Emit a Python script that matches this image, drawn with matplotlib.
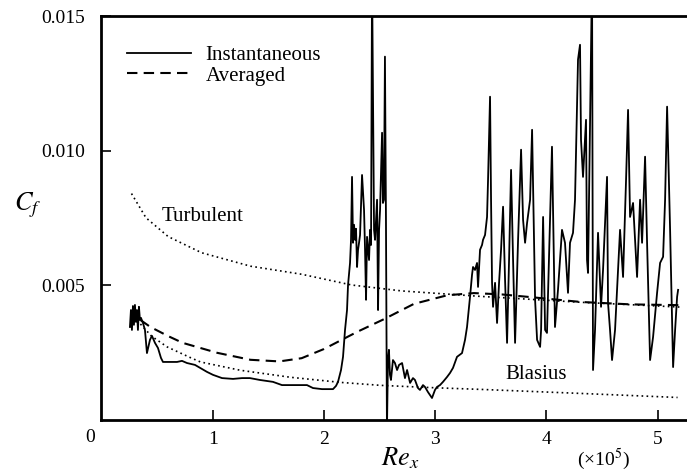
import matplotlib.pyplot as plt

plt.rcParams["font.family"] = ["Liberation Serif", "DejaVu Serif"]
plt.rcParams["mathtext.fontset"] = "stix"

# Re_x in units of 1e5
x_inst = [0.256, 0.265, 0.274, 0.283, 0.292, 0.301, 0.310, 0.319, 0.328, 0.337,
          0.346, 0.355, 0.373, 0.391, 0.409, 0.436, 0.454, 0.481, 0.508, 0.535,
          0.553, 0.616, 0.679, 0.724, 0.769, 0.841, 0.886, 0.949, 1.003, 1.084,
          1.183, 1.264, 1.335, 1.425, 1.542, 1.623, 1.695, 1.785, 1.848, 1.902,
          1.983, 2.082, 2.109, 2.127, 2.154, 2.172, 2.190, 2.208, 2.217, 2.235,
          2.244, 2.253, 2.262, 2.271, 2.280, 2.289, 2.298, 2.307, 2.316, 2.325,
          2.343, 2.361, 2.370, 2.379, 2.388, 2.406, 2.415, 2.424, 2.433, 2.451,
          2.460, 2.478, 2.487, 2.496, 2.505, 2.523, 2.531, 2.540, 2.549, 2.558,
          2.567, 2.576, 2.585, 2.594, 2.603, 2.621, 2.639, 2.658, 2.676, 2.703,
          2.729, 2.748, 2.775, 2.801, 2.819, 2.846, 2.864, 2.891, 2.909, 2.936,
          2.972, 2.999, 3.017, 3.044, 3.071, 3.107, 3.134, 3.161, 3.197, 3.242,
          3.269, 3.287, 3.314, 3.332, 3.341, 3.359, 3.377, 3.386, 3.404, 3.422,
          3.431, 3.449, 3.467, 3.476, 3.494, 3.503, 3.512, 3.521, 3.539, 3.557,
          3.575, 3.593, 3.611, 3.629, 3.647, 3.665, 3.683, 3.701, 3.719, 3.746,
          3.773, 3.791, 3.809, 3.827, 3.854, 3.872, 3.899, 3.917, 3.944, 3.953,
          3.971, 3.989, 4.006, 4.033, 4.051, 4.078, 4.105, 4.123, 4.141, 4.168,
          4.195, 4.213, 4.240, 4.258, 4.285, 4.303, 4.312, 4.330, 4.357, 4.366,
          4.375, 4.411, 4.420, 4.438, 4.465, 4.492, 4.510, 4.546, 4.555, 4.573,
          4.591, 4.618, 4.645, 4.663, 4.690, 4.717, 4.735, 4.753, 4.780, 4.816,
          4.843, 4.861, 4.888, 4.906, 4.933, 4.960, 4.996, 5.023, 5.050, 5.068,
          5.086, 5.113, 5.140, 5.158, 5.176, 5.185]
cf_inst = [0.00344, 0.00407, 0.00333, 0.00422, 0.00352, 0.00426, 0.00363, 0.00407, 0.00333, 0.00419,
           0.00370, 0.00378, 0.00359, 0.00333, 0.00247, 0.00296, 0.00311, 0.00285, 0.00266, 0.00229,
           0.00214, 0.00214, 0.00214, 0.00218, 0.00210, 0.00203, 0.00192, 0.00177, 0.00166, 0.00154,
           0.00151, 0.00154, 0.00154, 0.00147, 0.00140, 0.00128, 0.00128, 0.00128, 0.00128, 0.00117,
           0.00113, 0.00113, 0.00125, 0.00140, 0.00184, 0.00233, 0.00333, 0.00407, 0.00500, 0.00582,
           0.00668, 0.00902, 0.00657, 0.00724, 0.00668, 0.00709, 0.00567, 0.00631, 0.00657, 0.00686,
           0.00909, 0.00779, 0.00631, 0.00445, 0.00679, 0.00593, 0.00705, 0.00649, 0.01650, 0.00705,
           0.00668, 0.00817, 0.00407, 0.00705, 0.00779, 0.01066, 0.00805, 0.00817, 0.01349, 0.00753,
           -0.00040, 0.00221, 0.00259, 0.00166, 0.00147, 0.00221, 0.00210, 0.00184, 0.00203, 0.00210,
           0.00154, 0.00184, 0.00136, 0.00154, 0.00147, 0.00117, 0.00110, 0.00128, 0.00121, 0.00102,
           0.00080, 0.00110, 0.00121, 0.00128, 0.00140, 0.00158, 0.00173, 0.00192, 0.00233, 0.00247,
           0.00296, 0.00344, 0.00456, 0.00538, 0.00567, 0.00556, 0.00582, 0.00493, 0.00631, 0.00649,
           0.00668, 0.00686, 0.00753, 0.00891, 0.01200, 0.00817, 0.00508, 0.00419, 0.00508, 0.00359,
           0.00508, 0.00631, 0.00791, 0.00519, 0.00285, 0.00593, 0.00928, 0.00593, 0.00285, 0.00668,
           0.01003, 0.00742, 0.00657, 0.00731, 0.00817, 0.01077, 0.00445, 0.00296, 0.00270, 0.00333,
           0.00753, 0.00333, 0.00322, 0.00742, 0.01014, 0.00344, 0.00482, 0.00593, 0.00705, 0.00657,
           0.00471, 0.00657, 0.00694, 0.00817, 0.01338, 0.01393, 0.01040, 0.00902, 0.01114, 0.00593,
           0.00545, 0.01650, 0.00184, 0.00333, 0.00694, 0.00419, 0.00556, 0.00902, 0.00433, 0.00333,
           0.00221, 0.00333, 0.00556, 0.00705, 0.00530, 0.00891, 0.01151, 0.00753, 0.00805, 0.00530,
           0.00817, 0.00657, 0.00977, 0.00657, 0.00221, 0.00307, 0.00471, 0.00582, 0.00605, 0.00817,
           0.01163, 0.00705, 0.00195, 0.00333, 0.00456, 0.00482]

x_avg = [0.35, 0.44, 0.60, 0.73, 1.04, 1.34, 1.60, 1.80, 2.00, 2.30, 2.54, 2.81,
         3.11, 3.35, 3.60, 3.86, 4.31, 4.76, 5.22]
cf_avg = [0.00370, 0.00344, 0.00310, 0.00285, 0.00248, 0.00222, 0.00216, 0.00228,
          0.00262, 0.00326, 0.00373, 0.00430, 0.00462, 0.00470, 0.00465, 0.00455,
          0.00437, 0.00428, 0.00425]

x_turb = [0.27, 0.40, 0.60, 0.90, 1.34, 1.80, 2.25, 2.70, 3.40, 4.30, 5.20]
cf_turb = [0.00840, 0.00750, 0.00680, 0.00620, 0.00570, 0.00540, 0.00500, 0.00478,
           0.00458, 0.00436, 0.00418]

x_blas = [0.35, 0.45, 0.59, 0.80, 0.89, 1.25, 1.70, 2.15, 2.51, 3.00, 3.41, 4.31, 5.18]
cf_blas = [0.00355, 0.00310, 0.00270, 0.00230, 0.00214, 0.00183, 0.00157, 0.00138,
           0.00127, 0.00118, 0.00112, 0.00097, 0.00082]

fig = plt.figure(figsize=(6.87, 4.75), dpi=100)
ax = fig.add_axes([0.1477, 0.1168, 0.8523, 0.8495])

ax.plot(x_inst, cf_inst, color="black", lw=1.3, label="Instantaneous")
ax.plot(x_avg, cf_avg, color="black", lw=1.5, dashes=(5, 3), label="Averaged")
ax.plot(x_turb, cf_turb, color="black", lw=1.2, linestyle=(0, (1, 2)))
ax.plot(x_blas, cf_blas, color="black", lw=1.2, linestyle=(0, (1, 2)))

ax.text(0.544, 0.00753, "Turbulent", fontsize=15, va="center")
ax.text(3.63, 0.00166, "Blasius", fontsize=15, va="center")

ax.set_xlim(0, 5.265)
ax.set_ylim(0, 0.015)
ax.set_xticks([1, 2, 3, 4, 5])
ax.set_yticks([0.005, 0.010, 0.015])
ax.set_yticklabels(["0.005", "0.010", "0.015"])
ax.tick_params(direction="in", length=7, width=1.2, labelsize=14, pad=8)
ax.tick_params(axis="y", pad=12)
ax.text(-0.1, -0.00035, "0", fontsize=14, ha="center", va="top")

ax.spines["right"].set_visible(False)
for s in ["left", "top", "bottom"]:
    ax.spines[s].set_linewidth(2)

fig.text(0.04, 0.568, "$C_f$", fontsize=19, ha="center", va="center")
fig.text(0.582, 0.035, "$Re_x$", fontsize=19, ha="center", va="center")
fig.text(0.879, 0.034, "(×10$^5$)", fontsize=14, ha="center", va="center")

ax.legend(loc="upper left", bbox_to_anchor=(0.025, 0.953), frameon=False,
          fontsize=15, handlelength=3.1, handletextpad=0.7, labelspacing=0.05,
          borderpad=0)

fig.savefig("out.png", dpi=100)
